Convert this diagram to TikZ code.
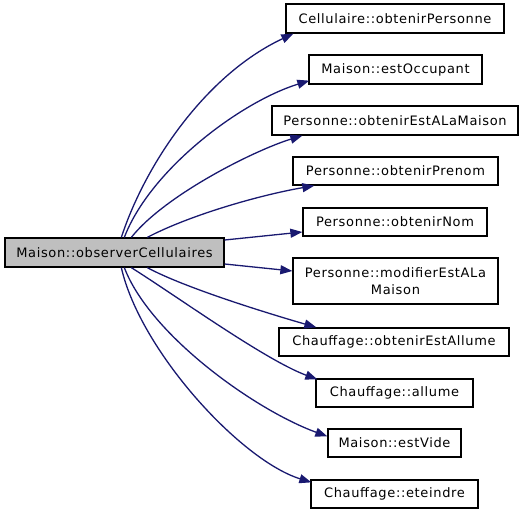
\documentclass[tikz,border=0pt]{standalone}
\usepackage{fontspec}
\setmainfont{DejaVu Sans}[LetterSpace=5]
\usetikzlibrary{arrows.meta}
\definecolor{edgeblue}{HTML}{191970}
\definecolor{maingray}{HTML}{BFBFBF}
\begin{document}
\begin{tikzpicture}[x=1pt,y=-1pt,
  fn/.style={draw=black, line width=1.3pt, fill=white, inner sep=0pt, minimum height=29pt, font=\fontsize{13}{17}\selectfont, align=center},
  call/.style={draw=edgeblue, line width=1.3pt, -{Triangle[length=12pt,width=9pt,fill=edgeblue]}}]
\useasboundingbox (0,0) rectangle (523,512);
\node[fn, fill=maingray, minimum width=219pt] (main) at (114.5,252.5) {Maison::observerCellulaires};
\node[fn, minimum width=218pt] (c1) at (395,18.5) {Cellulaire::obtenirPersonne};
\node[fn, minimum width=173pt] (c2) at (395.5,69.5) {Maison::estOccupant};
\node[fn, minimum width=246pt] (c3) at (395,120.5) {Personne::obtenirEstALaMaison};
\node[fn, minimum width=205pt, minimum height=28pt] (c4) at (395.5,171) {Personne::obtenirPrenom};
\node[fn, minimum width=184pt, minimum height=28pt] (c5) at (395,222) {Personne::obtenirNom};
\node[fn, minimum width=205pt, minimum height=46pt] (c6) at (395.5,281) {Personne::modifierEstALa\\Maison};
\node[fn, minimum width=230pt, minimum height=28pt] (c7) at (394,342) {Chauffage::obtenirEstAllume};
\node[fn, minimum width=157pt, minimum height=28pt] (c8) at (394.5,393) {Chauffage::allume};
\node[fn, minimum width=133pt, minimum height=28pt] (c9) at (394.5,443) {Maison::estVide};
\node[fn, minimum width=167pt, minimum height=28pt] (c10) at (394.5,494) {Chauffage::eteindre};

\draw[call] ([xshift=117pt]main.north west) .. controls (145,165) and (205,75) .. ([xshift=8pt]c1.south west);
\draw[call] ([xshift=120pt]main.north west) .. controls (150,170) and (240,102) .. ([xshift=1pt,yshift=4pt]c2.south west);
\draw[call] ([xshift=127pt]main.north west) .. controls (165,195) and (255,150) .. ([xshift=31pt]c3.south west);
\draw[call] ([xshift=143pt]main.north west) .. controls (190,215) and (260,195) .. ([xshift=22pt]c4.south west);
\draw[call] ([yshift=12.5pt]main.east) -- ([yshift=-10pt]c5.west);
\draw[call] ([yshift=-11.5pt]main.east) -- ([yshift=10pt]c6.west);
\draw[call] ([xshift=143pt]main.south west) .. controls (185,288) and (270,314) .. ([xshift=38pt]c7.north west);
\draw[call] ([xshift=127pt]main.south west) .. controls (175,295) and (265,360) .. ([xshift=2pt,yshift=-1pt]c8.north west);
\draw[call] ([xshift=120pt]main.south west) .. controls (150,335) and (255,410) .. ([yshift=-8pt]c9.north west);
\draw[call] ([xshift=117pt]main.south west) .. controls (140,350) and (240,460) .. ([xshift=1pt,yshift=-3pt]c10.north west);
\end{tikzpicture}
\end{document}
